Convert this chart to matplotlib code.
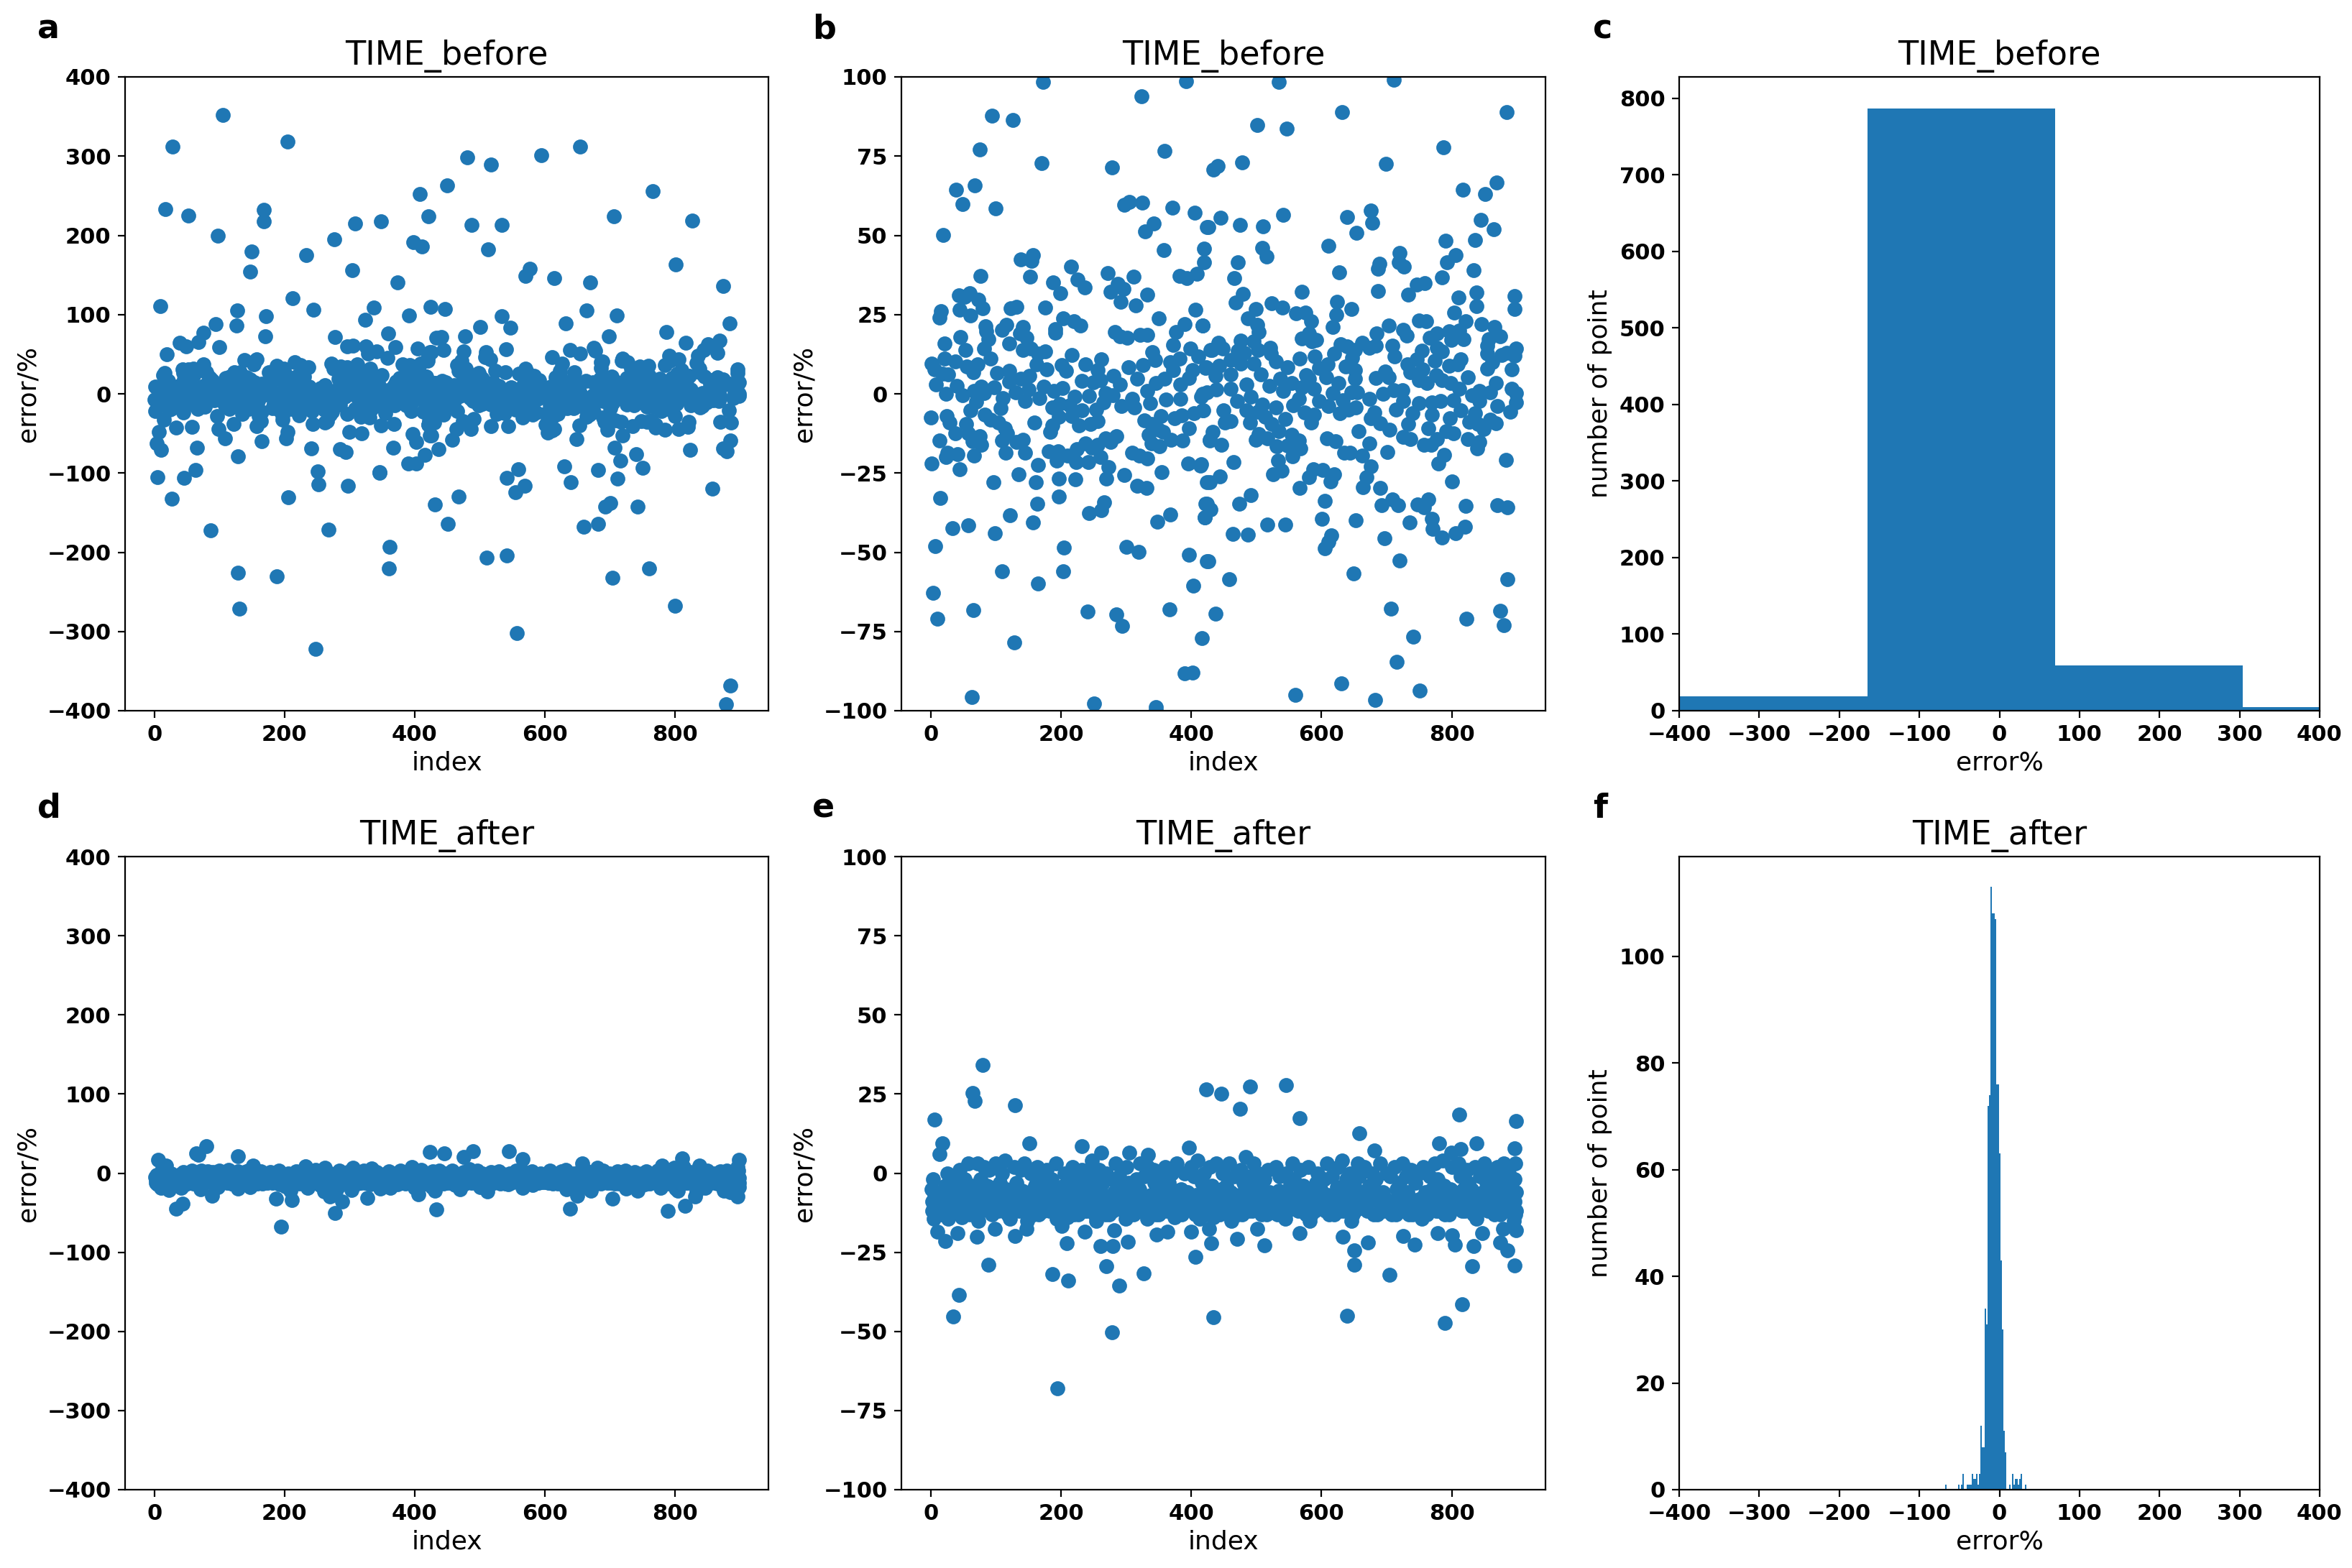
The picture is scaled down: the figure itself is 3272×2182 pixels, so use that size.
import matplotlib
matplotlib.use("Agg")
import matplotlib.pyplot as plt

# ---- TIME_before: errors beyond +/-100
before_high = [(105,352),(205,318),(28,312),(654,312),(595,301),(481,298),(517,289),(450,263),(766,256),(408,252),
(17,233),(168,232),(52,225),(421,224),(706,224),(827,219),(168,218),(348,218),(309,215),(488,213),(534,213),(97,200),
(277,195),(398,191),(411,186),(150,180),(513,182),(233,175),(802,163),(304,156),(147,154),(577,158),(571,149),(615,146),
(374,141),(670,141),(874,136),(212,121),(9,111),(425,110),(337,109),(244,106),(447,107),(127,105),(664,105)]
before_low = [(5,-105),(46,-106),(346,-100),(542,-106),(252,-114),(298,-116),(569,-116),(555,-124),(640,-112),(712,-107),
(858,-120),(27,-132),(206,-131),(468,-130),(431,-140),(693,-142),(701,-138),(743,-142),(451,-164),(660,-168),(682,-164),
(268,-171),(87,-172),(362,-193),(360,-220),(542,-204),(511,-207),(129,-226),(188,-230),(704,-232),(761,-220),(131,-271),
(800,-268),(557,-302),(248,-322),(885,-368),(879,-392)]

# ---- TIME_before: errors within +/-100, index < 415
before_mid_a = [(172,98.4),(94,87.8),(126,86.3),(75,77.2),(170,72.7),(39,64.4),(68,65.7),(49,59.8),(100,58.6),(19,50.2),
(324,93.8),(392,98.7),(359,76.6),(278,71.4),(297,59.7),(305,60.6),(325,60.3),(371,58.8),(405,57.1),(342,53.8),(329,51.2),
(358,45.4),(424,52.5),(138,42.4),(155,41.9),(157,43.8),(216,40.2),(153,37),(76,37.2),(272,38.1),(312,36.9),(382,37.2),
(393,36.5),(409,37.8),(420,41.6),(420,45.8),(188,35.1),(225,36),(237,33.5),(287,34.7),(296,33.2),(276,32.1),(199,31.7),
(332,31.3),(43,31.1),(52,30.6),(60,31.7),(73,29.8),(80,27),(16,26.1),(14,24),(44,26.5),(61,24.8),(123,27),(132,27.4),
(176,27.2),(292,29.1),(315,28),(407,26.5),(350,23.9),(203,23.8),(220,22.9),(230,21.5),(390,22.1),(417,21.5),(377,19.6),
(84,21.3),(85,19.8),(89,17.2),(116,21.7),(110,20.2),(142,21.1),(137,19),(147,17.8),(191,20.4),(191,19.2),(283,19.4),
(291,18.2),(302,17.8),(321,18.7),(332,18.5),(21,15.9),(46,17.9),(53,13.9),(82,14.2),(121,15.9),(141,13.9),(154,14.3),
(165,12.6),(176,13.4),(372,15.5),(399,14.2),(340,13.1),(411,11.8),(430,13.8),(217,12.2),(92,11),(345,10.7),(382,11),
(262,10.8),(1,9.5),(21,11),(38,10.3),(368,9.9),(238,9.4),(162,9.2),(201,9.1),(304,8.5),(326,9.1),(55,8.6),(72,9.4),
(256,7.4),(178,7.8),(422,8.2),(402,7.4),(6,7.8),(121,7.2),(208,7.2),(372,7.4),(102,6.6),(65,6.8),(18,6.4),(27,6.1),
(281,5.6),(152,5.6),(317,4.8),(396,5.1),(359,4.8),(138,4.7),(232,4),(250,3.6),(261,4.4),(121,3.8),(346,3.5),(383,2.9),
(8,3),(291,2.9),(173,2.2),(40,2.5),(77,2.2),(333,0.9),(424,0.5),(97,2),(67,0.8),(23,0),(269,0.3),(189,0.9),(202,1.8),
(150,1.3),(130,0.5),(280,-0.4),(49,-0.5),(243,-0.7),(82,0.3),(221,-1),(167,-1.4),(309,-1.7),(361,-1.8),(383,-1.7),
(111,-1.4),(145,-2.3),(70,-2.6),(415,-1),(337,-3),(265,-2.7),(198,-3.1),(293,-3.9),(313,-4.3),(213,-3.6),(107,-4.6),
(61,-5.2),(232,-5.2),(254,-4.9),(187,-4.3),(418,-5.3),(404,-6.1),(386,-6.8),(0,-7.4),(24,-7),(353,-7),(83,-6.6),
(197,-7.3),(374,-7.7),(217,-7),(328,-8.5),(92,-8.2),(29,-9),(159,-9),(256,-8.6),(245,-9.5),(228,-9.9),(104,-9.1),
(54,-9.5),(339,-9.5),(187,-9.9),(396,-10.8),(350,-11.4),(114,-10.8),(184,-12.1),(357,-12.1),(38,-12.4),(117,-12.4),
(58,-12.5),(335,-13),(285,-13.3),(75,-13.4),(369,-14.4),(13,-14.8),(269,-14),(141,-14.4),(387,-14.7),(428,-14.7),
(109,-14.7),(132,-15.1),(64,-15),(238,-15.7),(256,-16),(78,-16),(276,-15.1),(339,-15.7),(351,-16.6),(247,-17),(224,-17.4),
(181,-18.1),(196,-18.1),(26,-18.6),(145,-18.6),(115,-18.7),(41,-19),(309,-18.7),(23,-20),(67,-19.5),(320,-19.6),(333,-20.3),
(210,-19.5),(261,-19.9),(223,-21.6),(242,-21.6),(193,-21.2),(1,-22),(165,-22.5),(395,-22.1),(414,-22.6),(273,-23.1),
(44,-23.8),(355,-24.8),(135,-25.4),(297,-25.6),(222,-27),(197,-26.8),(270,-26.7),(96,-28),(161,-28),(424,-28),(317,-29.1),
(331,-29.6),(197,-32.4),(15,-32.9),(164,-34.6),(266,-34.2),(422,-34.6),(262,-36.7),(243,-37.7),(122,-38.4),(368,-38.1),
(421,-38.9),(157,-40.6),(348,-40.3),(58,-41.6),(33,-42.3),(99,-44),(7,-48.1),(205,-48.5),(300,-48.2),(319,-49.8),(397,-50.8),
(424,-52.8),(109,-55.9),(203,-56),(165,-59.9),(403,-60.6),(4,-62.7),(65,-68.3),(241,-68.6),(367,-68.1),(285,-69.7),(10,-71),
(294,-73.3),(416,-77.2),(128,-78.5),(390,-88.3),(402,-88),(63,-95.8),(251,-97.7),(346,-98.8)]

# ---- TIME_before: errors within +/-100, index >= 415
before_mid_b = [(534,98.4),(711,99),(632,89),(884,89),(501,84.8),(547,83.7),(787,77.8),(478,73),(699,72.5),(441,71.8),
(434,70.7),(817,64.5),(869,66.7),(851,63),(541,56.4),(676,57.9),(445,55.5),(639,55.7),(678,54),(475,53.2),(510,52.8),
(426,52.7),(845,54.9),(865,52),(654,50.8),(791,48.4),(836,48.5),(611,46.7),(509,46),(516,43.3),(720,44.5),(806,43.8),
(472,41.6),(689,41),(687,39.5),(793,41.5),(719,41.5),(727,40.2),(834,39),(627,38.4),(466,36.4),(785,36.7),(759,35),
(746,34.5),(570,32.1),(687,32.5),(479,31.6),(733,31.3),(838,32),(897,30.9),(468,28.7),(524,28.6),(540,27.3),(810,30.3),
(624,29),(838,27.6),(896,26.7),(499,26.7),(646,26.8),(804,25.6),(561,25.5),(575,25.6),(623,25),(487,23.9),(584,23),
(822,22.8),(750,23.1),(761,22.8),(846,22.1),(501,21.7),(617,21.2),(703,21.5),(418,21.5),(866,21.1),(726,20.2),(504,19.5),
(685,19.1),(796,19.8),(777,19.1),(812,20),(731,18.3),(874,18.1),(581,19.1),(766,17.8),(570,17.4),(799,16.9),(818,17.2),
(585,16.5),(592,16.9),(496,16.5),(476,16.8),(857,17.2),(442,16.1),(629,15.6),(639,15),(663,16.1),(709,15.1),(674,14.6),
(683,15.2),(432,13.9),(448,14.3),(777,14.6),(855,15.2),(521,14.6),(472,13.7),(481,12.9),(754,13.7),(652,13.9),(899,14.2),
(620,12.6),(785,13.3),(855,12.6),(502,13.9),(884,13),(877,12.2),(712,11.8),(896,12),(590,11.7),(461,10.7),(567,11),
(522,12.6),(746,10.9),(814,10.9),(774,10.4),(862,10),(647,11.3),(476,9.6),(530,10.3),(609,9.4),(732,9.2),(809,9.2),
(796,8.8),(496,9.6),(423,8.3),(548,8.5),(637,8.6),(596,8.1),(443,8.8),(892,7.8),(855,8),(755,7.8),(737,6.8),(652,7.4),
(698,7),(507,6.1),(437,5.7),(576,5.9),(461,6.1),(776,5.9),(703,5.2),(683,4.9),(652,4.8),(607,5.2),(825,5.3),(750,4.2),
(785,4.2),(762,3.3),(485,2.9),(626,3.3),(581,4.8),(798,3.3),(520,2.6),(537,4.8),(554,3.3),(570,2.1),(868,3.3),(439,1.3),
(655,0.5),(724,1.2),(711,1.2),(892,1.6),(461,1.6),(646,0.5),(842,0.9),(811,1.6),(694,0),(617,0.3),(541,0.9),(589,1.6),
(417,0),(899,0.3),(859,0.5),(831,-0.4),(491,-1),(470,-2.3),(565,-1.7),(596,-2.3),(633,-2),(726,-2.3),(803,-2),(674,-1.7),
(770,-2.7),(783,-2.3),(750,-3),(899,-2.7),(842,-2.3),(509,-3.3),(530,-4.3),(557,-3.6),(611,-3.9),(653,-4.3),(870,-3.9),
(814,-5.2),(449,-5.2),(485,-5.3),(714,-5.1),(642,-4.9),(574,-6),(589,-6.6),(628,-6.2),(681,-6),(890,-5.6),(740,-6.2),
(836,-6.2),(502,-5.6),(419,-5.2),(513,-7.3),(544,-7.9),(770,-6.5),(797,-7.7),(676,-7.7),(461,-8.7),(452,-9.1),(490,-9),
(524,-9.5),(584,-9.1),(690,-9.2),(868,-9.2),(827,-8.8),(733,-9.5),(840,-9.5),(859,-8.2),(764,-10.9),(704,-11.4),(849,-11.2),
(657,-11.8),(535,-11.7),(433,-12.1),(792,-11.8),(803,-12.4),(504,-12.7),(554,-13),(726,-13.7),(737,-14.3),(517,-14),
(777,-14.3),(608,-14),(428,-14.4),(499,-14.4),(825,-14.3),(622,-15),(565,-14.7),(842,-15.1),(674,-15.7),(446,-16.1),
(531,-16.6),(548,-16.3),(757,-16.1),(768,-16.1),(568,-17.2),(839,-17.3),(635,-18.5),(644,-18.5),(701,-18.3),(555,-19.8),
(788,-19.2),(663,-19.6),(533,-21.2),(883,-20.9),(465,-21.6),(779,-22.1),(415,-22.2),(676,-22.9),(587,-23.8),(602,-24.1),
(539,-24.2),(526,-25.5),(620,-25.5),(444,-26),(581,-26.4),(669,-26.4),(614,-27.7),(428,-28),(800,-27.7),(566,-29.6),
(664,-29.4),(690,-29.8),(491,-31.9),(709,-33.3),(764,-33.3),(605,-33.9),(474,-34.8),(692,-35.1),(718,-35.1),(821,-35.4),
(870,-35.2),(748,-34.9),(757,-35.8),(886,-35.9),(424,-34.8),(430,-36.4),(421,-39.1),(770,-39.4),(601,-39.4),(653,-39.8),
(735,-40.6),(517,-41.2),(544,-41.2),(820,-42),(771,-42.7),(464,-44.2),(487,-44.5),(806,-44.1),(785,-45.3),(697,-45.5),
(615,-44.6),(611,-46.6),(605,-48.8),(426,-52.8),(720,-52.7),(649,-56.8),(458,-58.5),(885,-58.6),(437,-69.4),(707,-67.9),
(874,-68.5),(823,-70.9),(880,-73),(741,-76.6),(716,-84.6),(630,-91.4),(751,-93.6),(560,-95.1),(682,-96.5)]

# ---- TIME_after: points outside the dense band
after_outer = [(6,16.9),(18,9.4),(13,6),(80,34.1),(64,25.2),(68,22.8),(129,21.5),(152,9.5),(232,8.5),(262,6.4),(305,6.4),
(334,5.9),(396,8),(423,26.4),(446,25),(475,20.3),(490,27.3),(545,27.8),(566,17.4),(658,12.6),(681,7.2),(781,9.5),(811,18.4),
(838,9.4),(899,16.5),(896,7.9),(814,7.6),(799,6.4),(10,-18.5),(22,-21.4),(41,-18.9),(89,-28.9),(43,-38.4),(34,-45.4),
(71,-20),(98,-17.5),(129,-19.8),(147,-17.5),(201,-16.6),(209,-22.2),(187,-32),(211,-34),(261,-23.1),(279,-23.1),(282,-18.1),
(303,-21.7),(270,-29.3),(289,-35.6),(327,-31.7),(278,-50.2),(236,-18.5),(347,-19.5),(363,-18.5),(400,-18.5),(406,-26.4),
(427,-17.5),(431,-22.2),(434,-45.5),(470,-20.8),(501,-17.5),(512,-22.8),(566,-18.9),(633,-20),(650,-24.3),(650,-28.9),
(639,-45.1),(671,-21.8),(704,-32.2),(725,-19.8),(743,-22.5),(778,-18.9),(801,-19.6),(805,-22.7),(816,-41.4),(789,-47.4),
(831,-29.5),(834,-23),(847,-18.9),(875,-21.9),(885,-24.3),(879,-17.7),(899,-18.1),(897,-29.1),(195,-68)]

# ---- TIME_after: the dense band (estimated from panel e)
after_band_a = [(1,-5),(2,-12),(3,-9),(4,-2),(6,-7),(10,-11),(14,-6),(16,-13),(20,-9),(22,-4),(24,-11),
(26,0),(28,-7),(30,-11),(34,-3),(38,-8),(40,-1),(42,-12),(44,1),(46,-5),(50,-9),(52,-2),(54,-6),
(56,-12),(58,3),(60,-13),(62,-4),(64,-8),(68,-13),(70,-6),(72,3),(74,-10),(76,-2),(78,-12),(82,2),(84,-11),
(86,-4),(88,-11),(90,1),(92,-8),(94,-13),(98,-6),(100,3),(102,-10),(104,-12),(106,-3),(110,0),(112,-12),
(114,4),(116,-5),(118,-13),(120,-9),(124,-11),(126,-6),(128,2),(130,-11),(132,-3),(134,-8),(136,-12),(138,1),
(142,-12),(144,3),(146,-9),(150,-11),(152,-6),(154,0),(156,-11),(158,-13),(160,-4),(164,2),
(166,-13),(168,-1),(170,-7),(174,-12),(176,-3),(178,1),(182,-12),(184,-9),(186,-2),(188,-11),(190,-5),
(192,3),(194,-10),(196,-7),(198,-12),(202,-12),(204,-4),(206,0),(208,-8),(212,-3),(214,-10),(216,-6),
(218,2),(220,-13),(224,-1),(226,-13),(228,-5),(232,1),(236,-12),(238,-8),(240,-12),(242,0),
(244,-6),(246,-11),(248,4),(250,-2),(252,-13),(256,-5),(258,1),(260,-12),(262,-10),(264,-3),(268,-13),
(270,0),(274,-13),(276,-9),(278,-2),(280,-12),(282,-6),(284,3),(286,-11),(290,-1),(292,-11),(294,-4),
(296,-12),(298,-7),(300,2)]
after_band_b = [(302,-10),(304,-3),(306,-13),(310,-6),(312,-13),(314,-9),(316,-2),(318,-12),(322,3),(324,-12),
(326,-8),(328,-1),(330,-11),(334,2),(336,-11),(338,-7),(342,1),(344,-3),(346,-13),(350,-13),
(352,-9),(354,-1),(356,-12),(358,-5),(360,2),(362,-12),(366,-3),(368,-11),(370,0),(372,-6),(376,-9),
(378,3),(382,-12),(384,-5),(386,-13),(388,-8),(390,0),(392,-11),(396,-11),(398,-7),(400,2),(402,-10),
(404,-1),(406,-13),(410,4),(412,-12),(414,-9),(416,-3),(418,-12),(420,0),(422,-6),(424,-13),(428,2),
(430,-11),(432,-4),(436,-7),(438,3),(442,-10),(444,-13),(446,-5),(448,0),(450,-12),(452,-8),
(456,-12),(458,3),(460,-6),(464,-9),(466,-1),(470,-11),(472,-13),(474,-7),(476,1),(478,-13),(480,-3),
(482,-10),(484,5),(488,-12),(490,-1),(494,-12),(496,3),(498,-4),(500,-11),(502,-7),(504,0),(506,-11),
(508,-13),(512,-2),(514,-9),(516,-13),(518,1),(520,-6),(522,-12),(526,-11),(528,-8),(530,2),(532,-13),
(536,-1),(538,-10),(540,-13),(542,-7),(546,0),(548,-12),(550,-6),(554,-9),(556,3),(558,-2),
(560,-11),(562,-5),(564,-12),(568,1),(570,-12),(572,-4),(576,-13),(578,-7),(580,2),(584,-13),
(586,-6),(590,-12),(592,-3),(594,0),(596,-11),(598,-5)]
after_band_c = [(600,-11),(602,-8),(604,-2),(606,-12),(608,3),(612,-13),(614,-9),(616,-1),(620,-13),(622,-7),
(626,2),(628,-12),(630,-5),(632,4),(634,-12),(638,-2),(640,-11),(642,-6),(644,0),(648,-13),
(650,-4),(652,-12),(656,3),(658,-1),(660,-11),(662,-6),(664,-10),(666,2),(670,-12),(672,-8),
(676,-5),(678,0),(680,-13),(684,-2),(686,-13),(688,-6),(690,3),(692,-11),(696,-12),(698,-8),(700,0),
(702,-12),(706,-1),(708,-13),(710,-9),(712,2),(714,-13),(718,-10),(720,-3),(722,-12),(724,3),(726,-8),
(728,-12),(730,-1),(734,-13),(736,-9),(738,1),(740,-13),(744,-3),(746,-11),(748,-12),(750,0),(752,-8),
(756,2),(758,-12),(760,-6),(762,-13),(766,-1),(768,-11),(770,-5),(774,3),(776,-12),(778,-2),
(780,-12),(782,-7),(786,4),(788,-4),(790,-13),(794,-8),(796,-13),(798,-5),(800,2),(802,-11),
(806,-11),(808,-7),(810,3),(814,-1),(816,-12),(818,-5),(820,-12),(824,1),(826,-3),(828,-11),
(832,-10),(834,-13),(836,2),(840,-12),(842,-8),(844,-1),(846,-11),(850,3),(852,-11),(854,-3),(856,-12),
(860,0),(862,-12),(864,-5),(866,-13),(870,2),(872,-2),(874,-13),(876,-7),(880,3),(882,-4),
(884,-12),(886,-8),(888,0),(890,-12),(894,-11),(896,-2),(897,-9),(898,3),(899,-6),(899,-12),(898,-13)]
after_band_d = [(5,-14.5),(12,-8.5),(19,-5.5),(27,-14.5),(33,-9.5),(37,-5),(48,-14),(59,-8.5),(66,-10),(73,-15),(81,-7.5),
(91,-4.5),(97,-10.5),(108,-7.5),(122,-14.5),(127,-8.5),(140,-5.5),(148,-15),(157,-7.5),(171,-10),(180,-5),(193,-14.5),
(199,-8),(210,-14),(222,-9.5),(230,-6.5),(235,-3.5),(247,-8),(254,-15),(266,-7),(272,-10),(288,-8.5),(299,-14.5),(308,-9),
(320,-5),(332,-14.5),(340,-9),(348,-6),(364,-8.5),(374,-14),(380,-5.5),(394,-6),(408,-7),(413,-14.5),(426,-9),(434,-14),
(440,-7),(454,-4),(462,-15),(468,-8),(486,-7),(492,-9.5),(510,-5.5),(524,-8),(534,-5.5),(544,-14.5),(552,-3.5),(566,-8),
(574,-9.5),(582,-15),(588,-9),(600,-5.5),(610,-7),(618,-10),(624,-4.5),(636,-8),(646,-15),(654,-9),(668,-7),(674,-4),
(682,-8.5),(694,-6),(704,-9),(716,-5),(732,-6),(742,-8.5),(754,-14.5),(764,-9.5),(772,-8),(784,-10),(792,-5.5),(804,-6),
(812,-9),(822,-7.5),(830,-5),(838,-14.5),(848,-6),(858,-8.5),(868,-9.5),(878,-10),(892,-6),(895,-15)]

# ---- histograms
hist_before_first_edge = -399.5
hist_before_width = 234.5
hist_before_counts = [19, 787, 59, 5]
hist_after_first_edge = -68
hist_after_width = 1.78
hist_after_counts = [1,0,0,0,0,0,0,0,0,1,0,1,3,0,0,1,1,1,1,3,2,2,3,1,3,12,8,8,34,31,72,74,113,108,108,107,76,76,63,43,30,11,7,
                     0,0,1,0,3,1,2,2,1,2,3,0,0,1]

titles_before = "TIME_before"
titles_after = "TIME_after"
err_ticks_wide = list(range(-400, 401, 100))
err_ticks_zoom = list(range(-100, 101, 25))
index_ticks = [0, 200, 400, 600, 800]
panel_letters = ["a", "b", "c", "d", "e", "f"]

before = before_high + before_low + before_mid_a + before_mid_b
after = after_outer + after_band_a + after_band_b + after_band_c + after_band_d

W, H = 3273, 2182
fig = plt.figure(figsize=(W / 200, H / 200), dpi=200)
plt.rcParams["font.family"] = "DejaVu Sans"

cols = [(174, 1069), (1254, 2150), (2336, 3227)]
rows = [(107, 989), (1192, 2073)]
TICK = 11
LAB = 13
TIT = 16.6

def make_ax(c, r):
    x0, x1 = cols[c]
    y0, y1 = rows[r]
    return fig.add_axes([x0 / W, 1 - y1 / H, (x1 - x0) / W, (y1 - y0) / H])

def style(ax, title, xlabel, ylabel):
    ax.set_title(title, fontsize=TIT)
    ax.set_xlabel(xlabel, fontsize=LAB, labelpad=2.7)
    ax.set_ylabel(ylabel, fontsize=LAB, labelpad=3.4)
    for lab in ax.get_xticklabels() + ax.get_yticklabels():
        lab.set_fontweight("bold")
        lab.set_fontsize(TICK)

def scatter_panel(ax, pts, ylim, yticks, title):
    ax.scatter([p[0] for p in pts], [p[1] for p in pts], s=42, color="#1f77b4")
    ax.set_xlim(-45, 944)
    ax.set_ylim(*ylim)
    ax.set_xticks(index_ticks)
    ax.set_yticks(yticks)
    style(ax, title, "index", "error/%")

def hist_panel(ax, first, width, counts, ylim, yticks, title):
    lefts = [first + i * width for i in range(len(counts))]
    ax.bar(lefts, counts, width=width, align="edge", color="#1f77b4")
    ax.set_xlim(-400, 400)
    ax.set_ylim(*ylim)
    ax.set_xticks(err_ticks_wide)
    ax.set_yticks(yticks)
    style(ax, title, "error%", "number of point")

scatter_panel(make_ax(0, 0), before, (-400, 400), err_ticks_wide, titles_before)
scatter_panel(make_ax(1, 0), before, (-100, 100), err_ticks_zoom, titles_before)
hist_panel(make_ax(2, 0), hist_before_first_edge, hist_before_width, hist_before_counts,
           (0, 828), list(range(0, 801, 100)), titles_before)
scatter_panel(make_ax(0, 1), after, (-400, 400), err_ticks_wide, titles_after)
scatter_panel(make_ax(1, 1), after, (-100, 100), err_ticks_zoom, titles_after)
hist_panel(make_ax(2, 1), hist_after_first_edge, hist_after_width, hist_after_counts,
           (0, 118.7), list(range(0, 101, 20)), titles_after)

letter_x = [52, 1130, 2216]
letter_y = [41, 1125]
k = 0
for y in letter_y:
    for x in letter_x:
        fig.text(x / W, 1 - y / H, panel_letters[k], fontsize=16.5, fontweight="bold", va="center", ha="left")
        k += 1

fig.savefig("out.png", dpi=200)
